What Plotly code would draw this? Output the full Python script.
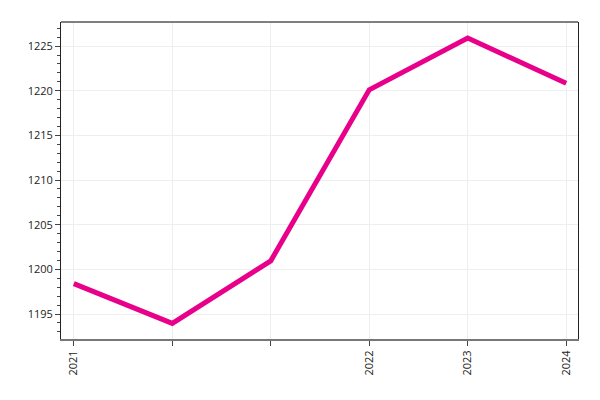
import plotly.graph_objects as go

categories = ["2021", "", "", "2022", "2023", "2024"]
values = [1198.4, 1193.95, 1200.95, 1220.1, 1225.9, 1220.85]

positions = list(range(len(categories)))

fig = go.Figure()
fig.add_trace(go.Scatter(
    x=positions, y=values, mode="lines",
    line=dict(color="#e8008a", width=5),
    hoverinfo="skip", showlegend=False,
))

fig.update_layout(
    width=592, height=392,
    margin=dict(l=53, r=22, t=14, b=61),
    paper_bgcolor="white", plot_bgcolor="white",
    font=dict(family="Open Sans", size=11, color="#222"),
    shapes=[dict(type="line", xref="paper", yref="paper", x0=0, x1=1, y0=1, y1=1,
                 line=dict(color="#000", width=1), layer="above")],
)
fig.update_xaxes(
    tickmode="array", tickvals=positions, ticktext=categories,
    tickangle=-90, range=[-0.13, 5.12],
    showgrid=True, gridcolor="#eeeeee", gridwidth=1,
    showline=True, linecolor="#777", linewidth=2, mirror=False,
    ticks="outside", ticklen=5, tickcolor="#444",
    zeroline=False,
)
fig.update_yaxes(
    range=[1192.2, 1227.7], tickvals=[1195, 1200, 1205, 1210, 1215, 1220, 1225],
    showgrid=True, gridcolor="#eeeeee", gridwidth=1,
    showline=True, linecolor="#222", linewidth=1, mirror=True,
    ticks="outside", ticklen=5, tickcolor="#444",
    minor=dict(ticks="outside", ticklen=3, dtick=1, tick0=1195, tickcolor="#444", showgrid=False),
    zeroline=False,
)
fig.write_html("out.html")
